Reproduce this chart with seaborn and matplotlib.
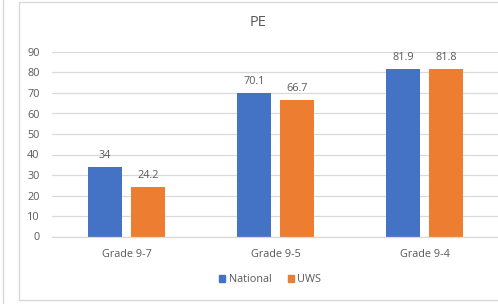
import matplotlib
matplotlib.use('Agg')
import matplotlib.pyplot as plt
import seaborn as sns
import pandas as pd
from matplotlib.patches import Rectangle
from matplotlib.lines import Line2D

grades = ['Grade 9-7', 'Grade 9-5', 'Grade 9-4']
national = [34, 70.1, 81.9]
uws = [24.2, 66.7, 81.8]
series = ['National', 'UWS']

df = pd.DataFrame({
    'grade': grades * 2,
    'value': national + uws,
    'series': ['National'] * 3 + ['UWS'] * 3,
})

sns.set_style('white')
plt.rcParams['font.family'] = ['Open Sans', 'DejaVu Sans']
text_col = '#595959'
grid_col = '#D9D9D9'

fig = plt.figure(figsize=(4.98, 3.08), dpi=100)
W, H = 498, 308
ax = fig.add_axes([52 / W, 1 - 236.5 / H, 447 / W, (236.5 - 52) / H])

sns.barplot(data=df, x='grade', y='value', hue='series', order=grades,
            hue_order=series, palette=['#4472C4', '#ED7D31'], saturation=1,
            width=0.577, gap=0.21, linewidth=0, ax=ax, legend=False)

ax.set_ylim(0, 90)
ax.set_xlim(-0.5, 2.5)
ax.set_yticks(range(0, 100, 10))
ax.yaxis.grid(True, color=grid_col, linewidth=0.9)
ax.set_axisbelow(True)
for s in ['left', 'right', 'top']:
    ax.spines[s].set_visible(False)
ax.spines['bottom'].set_color(grid_col)
ax.spines['bottom'].set_linewidth(0.9)
ax.tick_params(axis='both', length=0, labelsize=7.8, colors=text_col)
ax.tick_params(axis='x', pad=9)
ax.tick_params(axis='y', pad=9)
ax.set_xlabel('')
ax.set_ylabel('')

for cont in ax.containers:
    ax.bar_label(cont, labels=[f'{v:g}' for v in cont.datavalues],
                 padding=4, fontsize=7.8, color=text_col)

fig.text(258 / W, 1 - 22 / H, 'PE', ha='center', va='center',
         fontsize=10.5, color=text_col)

handles = [Rectangle((0, 0), 1, 1, color='#4472C4'),
           Rectangle((0, 0), 1, 1, color='#ED7D31')]
fig.legend(handles, series, loc='center', bbox_to_anchor=(270 / W, 1 - 280 / H),
           ncol=2, frameon=False, fontsize=7.8, labelcolor=text_col,
           handlelength=0.6, handleheight=0.6, handletextpad=0.3,
           columnspacing=1.5)

# chart border lines
fig.add_artist(Line2D([19 / W, 19 / W], [1 - 2 / H, 1 - 300 / H], color=grid_col, lw=1))
fig.add_artist(Line2D([19 / W, 1], [1 - 2 / H, 1 - 2 / H], color=grid_col, lw=1))
fig.add_artist(Line2D([19 / W, 1], [1 - 300 / H, 1 - 300 / H], color=grid_col, lw=1))
fig.add_artist(Line2D([3 / W, 3 / W], [1, 1 - 303 / H], color=grid_col, lw=1))

fig.savefig('out.png', dpi=100)
